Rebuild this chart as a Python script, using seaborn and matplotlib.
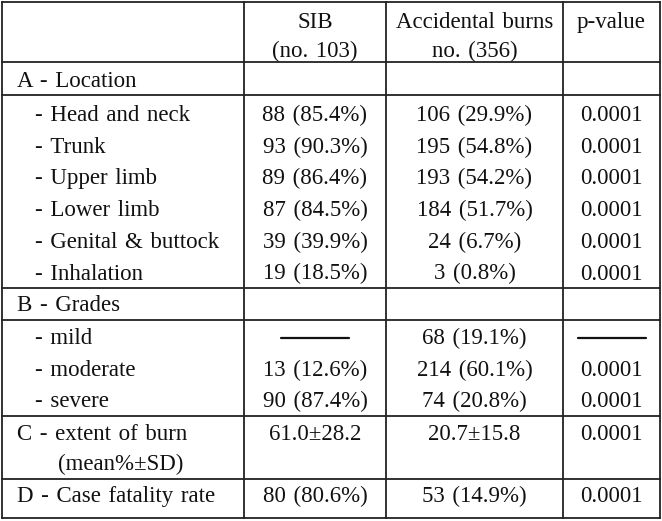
import matplotlib
matplotlib.use('Agg')

import matplotlib.pyplot as plt
import seaborn as sns
import pandas as pd
import numpy as np

sns.set_theme(style="white")
plt.rcParams['font.family'] = ['Liberation Serif', 'DejaVu Serif']

# table content
header_sib = ["SIB", "(no. 103)"]
header_acc = ["Accidental burns", "no. (356)"]
header_p = ["p-value"]

sections = ["A - Location", "B - Grades", "C - extent of burn", "D - Case fatality rate"]

location_labels = ["- Head and neck", "- Trunk", "- Upper limb", "- Lower limb",
                   "- Genital & buttock", "- Inhalation"]
location_sib = ["88 (85.4%)", "93 (90.3%)", "89 (86.4%)", "87 (84.5%)", "39 (39.9%)", "19 (18.5%)"]
location_acc = ["106 (29.9%)", "195 (54.8%)", "193 (54.2%)", "184 (51.7%)", "24 (6.7%)", "3 (0.8%)"]
location_p = ["0.0001"] * 6

grade_labels = ["- mild", "- moderate", "- severe"]
grade_sib = [None, "13 (12.6%)", "90 (87.4%)"]
grade_acc = ["68 (19.1%)", "214 (60.1%)", "74 (20.8%)"]
grade_p = [None, "0.0001", "0.0001"]

extent_sub = "(mean%±SD)"
extent_sib = "61.0±28.2"
extent_acc = "20.7±15.8"
extent_p = "0.0001"

fatality_sib = "80 (80.6%)"
fatality_acc = "53 (14.9%)"
fatality_p = "0.0001"

# layout (pixels)
W, H = 662, 521
col_x = [2, 244, 386, 563, 660]
row_y = [2, 62, 95, 288, 320, 416, 479, 518]
step = 31.7
fs = 16.5
line_c = "#222222"

fig = plt.figure(figsize=(W / 100, H / 100), dpi=100)
ax = fig.add_axes([0, 0, 1, 1])
ax.set_xlim(0, W)
ax.set_ylim(H, 0)
ax.axis('off')

for y in row_y:
    ax.plot([col_x[0], col_x[-1]], [y, y], color=line_c, lw=1.3, solid_capstyle='projecting')
for x in col_x:
    ax.plot([x, x], [row_y[0], row_y[-1]], color=line_c, lw=1.3, solid_capstyle='projecting')

cx = [(col_x[1] + col_x[2]) / 2, (col_x[2] + col_x[3]) / 2, (col_x[3] + col_x[4]) / 2]
lx_sec = 17
lx_sub = 35


def put(x, y, s, ha='center'):
    if s is None:
        # dash for missing value
        ax.plot([x - 34, x + 34], [y - 6, y - 6], color='#111111', lw=1.6)
        return
    # the source typesetting uses slightly wider word spaces
    ax.text(x, y, s.replace(' ', ' \u200a'), ha=ha, va='baseline', fontsize=fs, color='#111111')


# header
for i, s in enumerate(header_sib):
    put(cx[0], 28 + 29 * i, s)
for i, s in enumerate(header_acc):
    put(cx[1], 28 + 29 * i, s)
put(cx[2], 28, header_p[0])

# A
put(lx_sec, 87, sections[0], ha='left')
for i in range(len(location_labels)):
    yb = 121 + step * i
    put(lx_sub, yb, location_labels[i], ha='left')
    put(cx[0], yb, location_sib[i])
    put(cx[1], yb, location_acc[i])
    put(cx[2], yb, location_p[i])

# B
put(lx_sec, 311, sections[1], ha='left')
for i in range(len(grade_labels)):
    yb = 344 + step * i
    put(lx_sub, yb, grade_labels[i], ha='left')
    put(cx[0], yb, grade_sib[i])
    put(cx[1], yb, grade_acc[i])
    put(cx[2], yb, grade_p[i])

# C
put(lx_sec, 440, sections[2], ha='left')
put(58, 470, extent_sub, ha='left')
put(cx[0], 440, extent_sib)
put(cx[1], 440, extent_acc)
put(cx[2], 440, extent_p)

# D
put(lx_sec, 502, sections[3], ha='left')
put(cx[0], 502, fatality_sib)
put(cx[1], 502, fatality_acc)
put(cx[2], 502, fatality_p)

fig.savefig("out.png", dpi=100)
